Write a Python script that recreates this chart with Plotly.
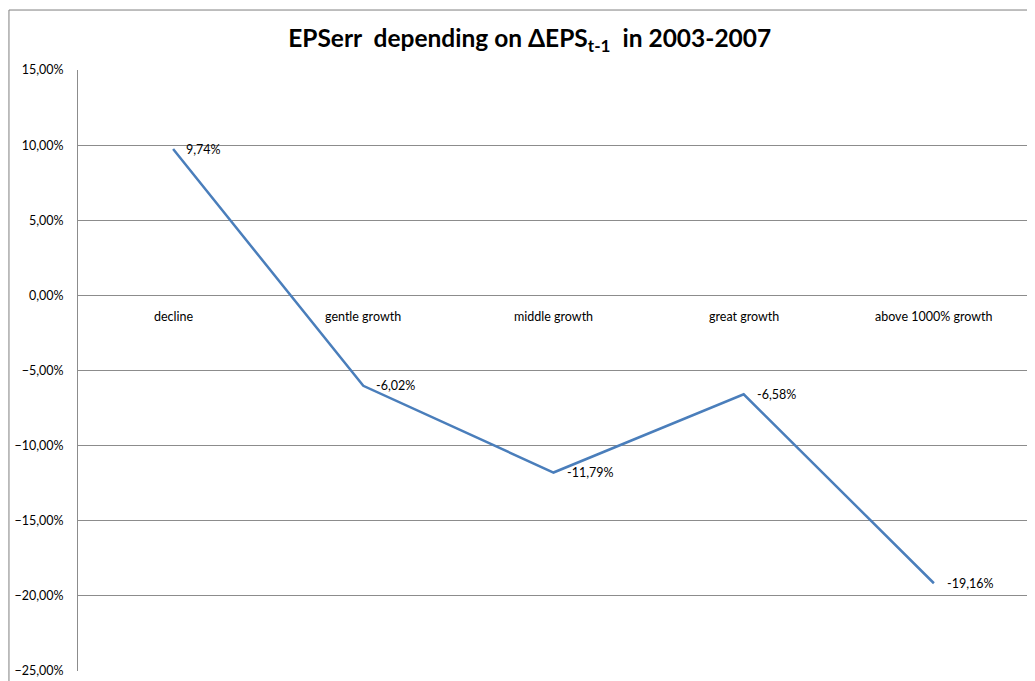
import plotly.graph_objects as go

categories = ["decline", "gentle growth", "middle growth", "great growth", "above 1000% growth"]
eps_err = [0.0974, -0.0602, -0.1179, -0.0658, -0.1916]
y_ticks = [0.15, 0.10, 0.05, 0.0, -0.05, -0.10, -0.15, -0.20, -0.25]

FONT = "Lato, 'Open Sans', sans-serif"

fig = go.Figure()
fig.add_trace(go.Scatter(
    x=categories, y=eps_err,
    mode="lines",
    line=dict(color="#4A7EBB", width=2.5),
    showlegend=False, hoverinfo="skip",
))

for c, v in zip(categories, eps_err):
    txt = f"{v * 100:.2f}%".replace(".", ",")
    fig.add_annotation(x=c, y=v, text=txt, showarrow=False, xanchor="left", yanchor="middle",
                       xshift=11, yshift=0,
                       font=dict(family=FONT, size=12.5, color="#000000"))

for c in categories:
    fig.add_annotation(x=c, y=0, text=c, showarrow=False, yanchor="top", yshift=-12,
                       font=dict(family=FONT, size=12.5, color="#000000"))

fig.add_shape(type="rect", xref="paper", yref="paper", x0=-0.0726, x1=1.05, y0=-0.1, y1=1.0998,
              line=dict(color="#7F7F7F", width=1), fillcolor="rgba(0,0,0,0)", layer="below")

fig.update_layout(
    width=1027, height=673,
    margin=dict(l=70, r=6, t=62, b=10, autoexpand=False),
    paper_bgcolor="white", plot_bgcolor="white",
    separators=", ",
    title=dict(text="<b>EPSerr  depending on ΔEPS<sub>t-1</sub>  in 2003-2007</b>",
               x=0.508, xanchor="center", y=0.955, yanchor="middle",
               font=dict(family=FONT, size=24.5, color="#000000")),
    xaxis=dict(type="category", range=[-0.5, 4.5], showticklabels=False, showgrid=False,
               zeroline=False, showline=False, ticks="", automargin=False),
    yaxis=dict(range=[-0.25, 0.15], tickvals=y_ticks, tickformat=".2%",
               showgrid=True, gridcolor="#8C8C8C", gridwidth=1,
               zeroline=False, showline=True, linecolor="#8C8C8C", linewidth=1,
               ticks="", ticklabelstandoff=11, automargin=False,
               tickfont=dict(family=FONT, size=12.5, color="#000000")),
)

fig.write_html("out.html")
